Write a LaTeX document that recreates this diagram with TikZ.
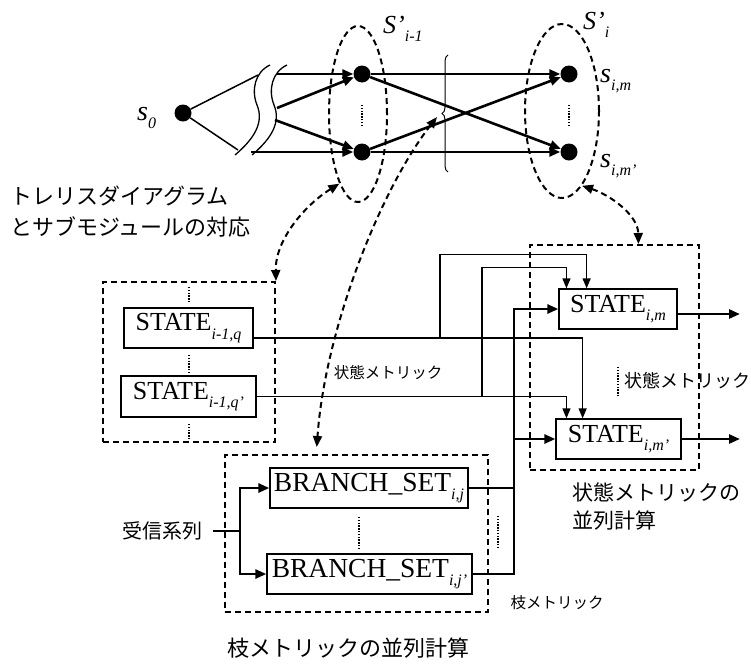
\documentclass[tikz,border=0pt]{standalone}
\usepackage{fontspec}
\setmainfont{Liberation Serif}
\newfontfamily\jpfont{Noto Sans CJK JP}
\usetikzlibrary{arrows.meta,shapes.geometric,calc,decorations.pathreplacing}
\newcommand\lsub[1]{\raisebox{-0.32em}{\fontsize{16}{16}\selectfont\itshape #1}}
\begin{document}
\begin{tikzpicture}[x=1pt,y=-1pt,
  dotnode/.style={circle,fill,inner sep=0pt,minimum size=17pt},
  sbox/.style={draw,line width=1.3pt,rectangle,inner sep=0pt,font=\fontsize{26}{26}\selectfont},
  bbox/.style={sbox,font=\fontsize{27.5}{27.5}\selectfont},
  grp/.style={draw,rectangle,line width=2pt,dash pattern=on 6pt off 4pt,inner sep=0pt},
  ell/.style={ellipse,draw,line width=2pt,dash pattern=on 6pt off 4pt,inner sep=0pt},
  tarr/.style={-{Triangle[length=11pt,width=9pt]},line width=2.6pt},
  narr/.style={-{Triangle[length=10pt,width=8pt]},line width=1.3pt},
  darr/.style={{Triangle[length=11pt,width=9pt]}-{Triangle[length=11pt,width=9pt]},line width=2pt,dash pattern=on 6pt off 4pt},
  dotcol/.style={line width=2.6pt,dash pattern=on 1.4pt off 1.4pt},
  lbl/.style={inner sep=0pt,anchor=base west,font=\fontsize{28}{28}\selectfont\itshape},
  jt/.style={inner sep=0pt,font={\jpfont\fontsize{#1}{#1}\selectfont}}
]
\useasboundingbox (0,0) rectangle (751,667);

% ---------------- trellis ----------------
\node[dotnode] (s0) at (183,113) {};
\node[dotnode] (a1) at (362,74) {};
\node[dotnode] (a2) at (362,152) {};
\node[dotnode] (b1) at (569,74) {};
\node[dotnode] (b2) at (569,152) {};

\node[lbl] (ls0) at (137,120) {s\lsub{0}};
\node[lbl,font=\fontsize{26}{26}\selectfont\itshape] (lS1) at (383,33) {S’\lsub{i-1}};
\node[lbl,font=\fontsize{26}{26}\selectfont\itshape] (lS2) at (583,29) {S’\lsub{i}};
\node[lbl] (lsm) at (600,82) {s\lsub{i,m}};
\node[lbl] (lsmp) at (600,167) {s\lsub{i,m’}};

% break symbol
\draw[line width=1.3pt] (235,155) .. controls (255,138) and (264,122) .. (257,105) .. controls (251,90) and (255,72) .. (270,65);
\draw[line width=1.3pt,xshift=17pt] (235,155) .. controls (255,138) and (264,122) .. (257,105) .. controls (251,90) and (255,72) .. (270,65);

\coordinate (l1) at (258,75);
\coordinate (l2) at (238,150);
\coordinate (w1) at (277,74);
\coordinate (w2) at (277,108);
\coordinate (w3) at (275,120);
\coordinate (w4) at (251,152);

\draw[line width=1.5pt] (s0) -- (l1);
\draw[line width=1.5pt] (s0) -- (l2);
\draw[tarr] (w1) -- (a1);
\draw[tarr] (w2) -- (a1);
\draw[tarr] (w3) -- (a2);
\draw[tarr] (w4) -- (a2);
\draw[tarr] (a1) -- (b1);
\draw[tarr] (a1) -- (b2);
\draw[tarr] (a2) -- (b1);
\draw[tarr] (a2) -- (b2);

\draw[dotcol] (362,105) -- (362,127);
\draw[dotcol] (569,105) -- (569,127);

\node[ell,minimum width=58pt,minimum height=176pt] (E1) at (358,114) {};
\node[ell,minimum width=74pt,minimum height=174pt] (E2) at (562,111) {};

\draw[line width=1pt,decorate,decoration={brace,amplitude=6pt}] (448,172) -- (448,55);
\coordinate (bt) at (437,117);

% ---------------- groups ----------------
\node[grp,minimum width=172pt,minimum height=160pt] (G1) at (189,362) {};
\node[grp,minimum width=263pt,minimum height=157pt] (G2) at (356.5,533.5) {};
\node[grp,minimum width=169pt,minimum height=225pt] (G3) at (614.5,357.5) {};

% ---------------- boxes ----------------
\node[sbox,minimum width=129pt,minimum height=40pt] (Sq) at (188.5,328) {STATE\lsub{i-1,q}};
\node[sbox,minimum width=135pt,minimum height=41pt] (Sqp) at (188.5,396.5) {STATE\lsub{i-1,q’}};
\node[sbox,minimum width=118pt,minimum height=40pt] (Sm) at (618,309) {STATE\lsub{i,m}};
\node[sbox,minimum width=125pt,minimum height=40pt] (Smp) at (618.5,439) {STATE\lsub{i,m’}};
\node[bbox,minimum width=198pt,minimum height=40pt] (Bj) at (369,488) {BRANCH\_SET\lsub{i,j}};
\node[bbox,minimum width=205pt,minimum height=40pt] (Bjp) at (369.5,574) {BRANCH\_SET\lsub{i,j’}};

\draw[dotcol] (189,287) -- (189,303);
\draw[dotcol] (189,355) -- (189,372);
\draw[dotcol] (189,424) -- (189,440);
\draw[dotcol] (359,517) -- (359,548);
\draw[dotcol] (498,516) -- (498,548);
\draw[dotcol] (618,367) -- (618,397);

% state metric connectors
\draw[narr] ([yshift=-10pt]Sq.east) -| ($(Smp.north west)!0.216!(Smp.north east)$);
\coordinate (jq) at (440,338);
\draw[narr] (jq) |- ($(Sm.north west)!0.237!(Sm.north east)+(0,-34)$) -- ($(Sm.north west)!0.237!(Sm.north east)$);
\draw[narr] (Sqp.east) -| ($(Smp.north west)!0.088!(Smp.north east)$);
\coordinate (jqp) at (482,396.5);
\draw[narr] (jqp) |- ($(Sm.north west)!0.068!(Sm.north east)+(0,-21)$) -- ($(Sm.north west)!0.068!(Sm.north east)$);

% branch metric bus
\coordinate (bus) at (514,0);
\draw[line width=2.6pt] (Bj.east) -| (bus |- Bjp.east) -- (Bjp.east);
\draw[tarr] (bus |- Bj.east) -- (bus |- Sm.west) -- (Sm.west);
\draw[tarr] (bus |- Smp.west) -- (Smp.west);

% outputs
\coordinate (o1) at (740,314);
\coordinate (o2) at (740,439);
\draw[tarr] ([yshift=-5pt]Sm.east) -- (o1);
\draw[tarr] (Smp.east) -- (o2);

% input
\node[jt=20,anchor=east] (rx) at (203,531) {受信系列};
\coordinate (jin) at (240,531);
\draw[line width=2.6pt] ([xshift=10pt]rx.east) -- (jin);
\draw[tarr] (jin) |- (Bj.west);
\draw[tarr] (jin) |- (Bjp.west);

% dashed correspondence arrows
\draw[darr] (E1.255) .. controls (305,205) and (275,240) .. (G1.north east);
\draw[darr] (bt) .. controls (380,190) and (325,330) .. ($(G2.north west)!0.35!(G2.north east)+(0,-7)$);
\draw[darr] (E2.285) .. controls (610,195) and (638,215) .. ($(G3.north west)!0.64!(G3.north east)$);

% texts
\node[jt=22,anchor=north west,align=left,font={\jpfont\fontsize{22}{31}\selectfont}] (tlab) at (10,186) {トレリスダイアグラム\\とサブモジュールの対応};
\node[jt=15.5] (smA) at (388,373) {状態メトリック};
\node[jt=18,anchor=west] (smB) at (624,381) {状態メトリック};
\node[jt=21,anchor=north west,align=left,font={\jpfont\fontsize{21}{28}\selectfont}] (smC) at (572,483) {状態メトリックの\\並列計算};
\node[jt=15.5] (bmA) at (557,603) {枝メトリック};
\node[jt=22] (bmB) at (348,648) {枝メトリックの並列計算};
\end{tikzpicture}
\end{document}
